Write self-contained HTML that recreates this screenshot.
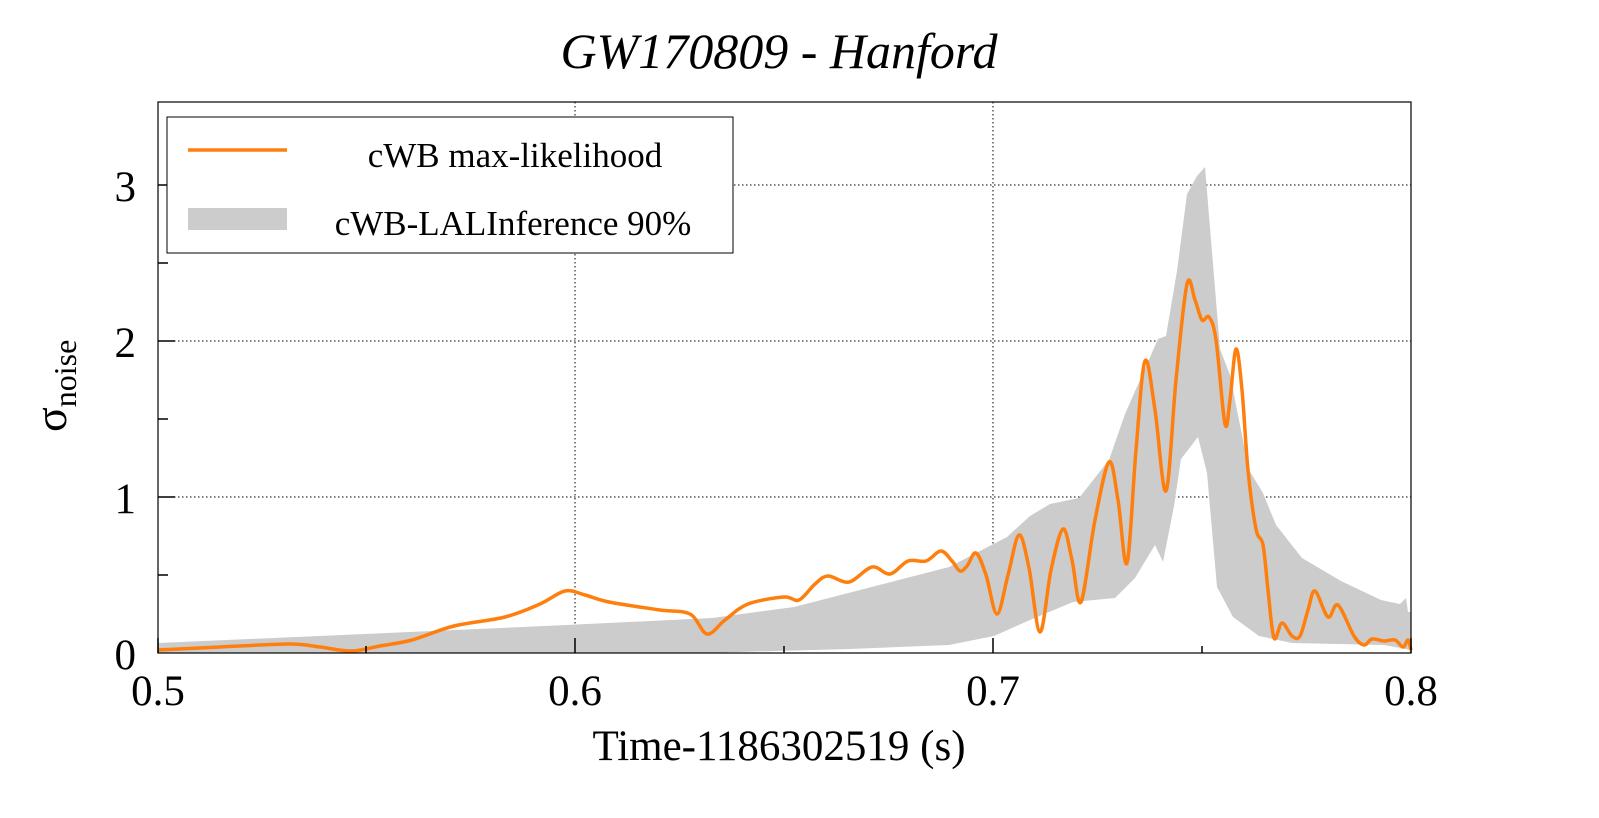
<!DOCTYPE html>
<html><head><meta charset="utf-8"><style>
html,body{margin:0;padding:0;background:#fff;}
svg text{font-family:"Liberation Serif",serif;fill:#000;}
</style></head><body>
<svg width="1599" height="813" viewBox="0 0 1599 813" xmlns="http://www.w3.org/2000/svg">
<rect width="1599" height="813" fill="#fff"/>
<text x="779" y="68" font-size="50" font-style="italic" text-anchor="middle">GW170809 - Hanford</text>
<g stroke="#000" stroke-width="1" stroke-dasharray="1.5,2.5">
<line x1="575" y1="102" x2="575" y2="653"/>
<line x1="993" y1="102" x2="993" y2="653"/>
<line x1="158" y1="185" x2="1411" y2="185"/>
<line x1="158" y1="341" x2="1411" y2="341"/>
<line x1="158" y1="497" x2="1411" y2="497"/>
</g>
<polygon fill="#cccccc" points="158,643 319,636 567,625 712,618 794,607 949,567 1007,537 1030,516 1050,504 1079,498 1109,460 1125,414 1158,339 1166,336 1177,271 1187,194 1197,176 1205,167 1210,228 1220,349 1230,375 1249,470 1263,493 1276,525 1302,558 1341,581 1381,600 1400,604 1406,598 1408,612 1411,612 1411,650 1384,645 1292,643 1259,636 1233,617 1217,587 1207,473 1198,437 1181,459 1174,506 1163,562 1155,545 1135,578 1115,598 1073,602 1030,620 994,636 949,645 850,649 737,652 700,653 158,653"/>
<polyline id="orl" fill="none" stroke="#ff7f0e" stroke-width="3.5" stroke-linejoin="round" points="158,650 220,647 289,644 320,647 351,651 380,646 412,640 454,626 505,617 540,604 565,591 585,595 609,602 660,610 690,614 707,634 725,620 748,604 784,597 799,600 815,584 828,576 849,582 872,567 890,574 908,561 926,561 941,551 952,561 960,571 967,566 976,553 986,575 997,614 1008,575 1019,535 1029,568 1040,632 1051,570 1063,529 1072,560 1081,602 1095,520 1109,462 1118,500 1127,563 1136,450 1145,361 1155,410 1166,491 1176,380 1187,284 1195,300 1202,320 1209,317 1216,340 1225,424 1230,400 1236,349 1242,390 1248,470 1256,529 1263,545 1268,590 1274,638 1282,623 1292,636 1300,636 1308,610 1315,591 1328,617 1338,605 1354,636 1364,645 1372,639 1384,641 1395,640 1403,647 1408,640 1411,650"/>
<path id="orp" fill="none" stroke="#ff7f0e" stroke-width="3.5" stroke-linejoin="round" d=""/>
<rect x="158" y="102" width="1253" height="551" fill="none" stroke="#000" stroke-width="1.2"/>
<g stroke="#000" stroke-width="1.5">
<line x1="158" y1="653" x2="158" y2="638"/><line x1="575" y1="653" x2="575" y2="638"/><line x1="993" y1="653" x2="993" y2="638"/><line x1="1411" y1="653" x2="1411" y2="638"/>
<line x1="366" y1="653" x2="366" y2="646"/><line x1="784" y1="653" x2="784" y2="646"/><line x1="1202" y1="653" x2="1202" y2="646"/>
<line x1="158" y1="497" x2="175" y2="497"/><line x1="158" y1="341" x2="175" y2="341"/><line x1="158" y1="185" x2="175" y2="185"/>
<line x1="158" y1="575" x2="168" y2="575"/><line x1="158" y1="419" x2="168" y2="419"/><line x1="158" y1="263" x2="168" y2="263"/>
</g>
<g font-size="43" text-anchor="end">
<text x="136" y="669">0</text><text x="136" y="513">1</text><text x="136" y="357">2</text><text x="136" y="201">3</text>
</g>
<g font-size="43" text-anchor="middle">
<text x="158" y="705">0.5</text><text x="575" y="705">0.6</text><text x="993" y="705">0.7</text><text x="1411" y="705">0.8</text>
<text x="779" y="760">Time-1186302519 (s)</text>
</g>
<g transform="translate(66,432) rotate(-90)">
<text x="0" y="0" font-size="46">σ<tspan font-size="32" dy="10">noise</tspan></text>
</g>
<rect x="167" y="117" width="566" height="136" fill="#fff" stroke="#000" stroke-width="1"/>
<line x1="188" y1="150" x2="287" y2="150" stroke="#ff7f0e" stroke-width="3.5"/>
<rect x="188" y="208" width="99" height="22" fill="#cccccc"/>
<g font-size="35" text-anchor="middle">
<text x="515" y="167">cWB max-likelihood</text>
<text x="513" y="235">cWB-LALInference 90%</text>
</g>
</svg>
<script>
(function(){
var pl=document.getElementById('orl');
var pts=pl.getAttribute('points').trim().split(/\s+/).map(function(s){return s.split(',').map(Number);});
var d='M'+pts[0][0]+','+pts[0][1];
for(var i=0;i<pts.length-1;i++){
var p0=pts[i>0?i-1:0],p1=pts[i],p2=pts[i+1],p3=pts[i+2<pts.length?i+2:i+1];
var c1x=p1[0]+(p2[0]-p0[0])/6,c1y=p1[1]+(p2[1]-p0[1])/6;
var c2x=p2[0]-(p3[0]-p1[0])/6,c2y=p2[1]-(p3[1]-p1[1])/6;
d+=' C'+c1x.toFixed(1)+','+c1y.toFixed(1)+' '+c2x.toFixed(1)+','+c2y.toFixed(1)+' '+p2[0]+','+p2[1];
}
document.getElementById('orp').setAttribute('d',d);
pl.setAttribute('stroke','none');
})();
</script>
</body></html>
